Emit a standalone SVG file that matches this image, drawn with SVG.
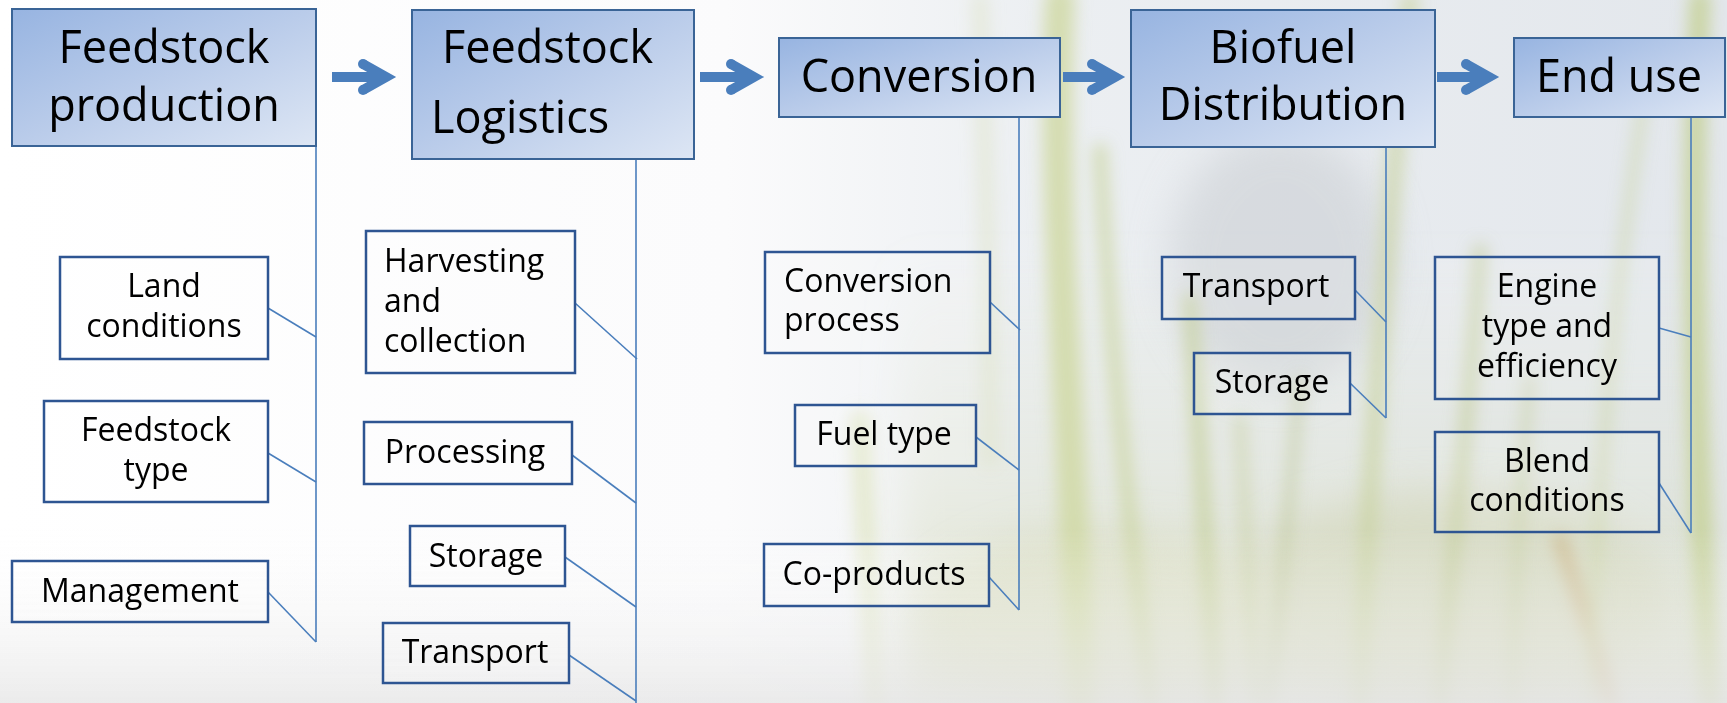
<svg xmlns="http://www.w3.org/2000/svg" width="1727" height="703" viewBox="0 0 1727 703">
<defs>
<linearGradient id="hdr" x1="0" y1="0" x2="1" y2="1">
<stop offset="0" stop-color="#97B4E1"/>
<stop offset="0.5" stop-color="#BACCEA"/>
<stop offset="1" stop-color="#DDE6F4"/>
</linearGradient>
<linearGradient id="bgH" x1="0" y1="0" x2="1" y2="0">
<stop offset="0" stop-color="#FFFFFF"/>
<stop offset="0.42" stop-color="#FBFBFC"/>
<stop offset="0.6" stop-color="#ECEFF2"/>
<stop offset="1" stop-color="#E3E7EC"/>
</linearGradient>
<linearGradient id="bgV" x1="0" y1="0" x2="0" y2="1">
<stop offset="0" stop-color="#FFFFFF" stop-opacity="0"/>
<stop offset="0.75" stop-color="#FFFFFF" stop-opacity="0"/>
<stop offset="1" stop-color="#E6E6E6" stop-opacity="0.8"/>
</linearGradient>
<linearGradient id="greenV" x1="0" y1="0" x2="0" y2="1">
<stop offset="0" stop-color="#D9DEC0" stop-opacity="0"/>
<stop offset="0.45" stop-color="#D9DEC0" stop-opacity="0.25"/>
<stop offset="1" stop-color="#CDD3A6" stop-opacity="0.55"/>
</linearGradient>
<filter id="blur" x="-50%" y="-10%" width="200%" height="120%">
<feGaussianBlur stdDeviation="8"/>
</filter>
<filter id="blur2" x="-50%" y="-20%" width="200%" height="140%">
<feGaussianBlur stdDeviation="20"/>
</filter>
</defs>
<style>
.hbox{fill:url(#hdr);stroke:#3A6496;stroke-width:2}
.sbox{fill:#FFFFFF;fill-opacity:0.12;stroke:#2E5592;stroke-width:2.5}
.ht{font-family:"Open Sans","Liberation Sans",sans-serif;font-size:45px;fill:#000}
.st{font-family:"Open Sans","Liberation Sans",sans-serif;font-size:32px;fill:#000}
.c{text-anchor:middle}
.ln{stroke:#4A7EBC;stroke-width:1.6;fill:none}
.ar{stroke:#4A7EBC;fill:none;stroke-width:10}
</style>
<g id="background">
<rect x="0" y="0" width="1727" height="703" fill="url(#bgH)"/>
<rect x="900" y="250" width="827" height="453" fill="url(#greenV)" filter="url(#blur2)"/>
<g filter="url(#blur2)" opacity="0.55">
<ellipse cx="1280" cy="260" rx="110" ry="130" fill="#C9CDD2"/>
<ellipse cx="1450" cy="600" rx="220" ry="110" fill="#D3D6B8"/>
<ellipse cx="1100" cy="620" rx="180" ry="90" fill="#DADDBF"/>
</g>
<g filter="url(#blur)" fill="none" stroke-linecap="round">
<path d="M1060 0 C1050 200 1075 450 1080 703" stroke="#D0D9A6" stroke-width="30" opacity="0.85"/>
<path d="M1100 150 C1110 350 1130 520 1150 703" stroke="#C6D195" stroke-width="14" opacity="0.65"/>
<path d="M1190 300 C1200 450 1210 600 1215 703" stroke="#BFCB8E" stroke-width="16" opacity="0.6"/>
<path d="M1240 420 C1245 520 1250 620 1255 703" stroke="#C4CE98" stroke-width="12" opacity="0.5"/>
<path d="M1410 0 C1390 200 1370 450 1360 703" stroke="#C8D39E" stroke-width="18" opacity="0.65"/>
<path d="M1480 250 C1470 420 1450 560 1440 703" stroke="#BEC98D" stroke-width="14" opacity="0.55"/>
<path d="M1560 540 C1580 600 1600 660 1610 703" stroke="#CDB98C" stroke-width="14" opacity="0.85"/>
<path d="M1700 0 C1690 200 1695 450 1710 703" stroke="#C2CF8E" stroke-width="22" opacity="0.75"/>
<path d="M1650 60 C1620 250 1600 420 1590 703" stroke="#C7D29C" stroke-width="10" opacity="0.55"/>
<path d="M860 420 C865 520 870 620 875 703" stroke="#DDE3BC" stroke-width="20" opacity="0.65"/>
<path d="M1300 380 C1290 500 1280 600 1270 703" stroke="#B6C287" stroke-width="10" opacity="0.5"/>
<path d="M980 0 C985 150 990 300 990 460" stroke="#E0E5CC" stroke-width="16" opacity="0.6"/>
<path d="M1530 380 C1520 480 1515 600 1512 703" stroke="#C2CC93" stroke-width="10" opacity="0.5"/>
</g>
<rect x="0" y="0" width="1727" height="703" fill="url(#bgV)"/>
</g>
<g id="connectors">
<line class="ln" x1="316" y1="146" x2="316" y2="642"/>
<line class="ln" x1="268" y1="308" x2="316" y2="337"/>
<line class="ln" x1="268" y1="453" x2="316" y2="482"/>
<line class="ln" x1="268" y1="592" x2="316" y2="642"/>
<line class="ln" x1="636" y1="159" x2="636" y2="703"/>
<line class="ln" x1="575" y1="303" x2="637" y2="359"/>
<line class="ln" x1="572" y1="455" x2="636" y2="503"/>
<line class="ln" x1="565" y1="557" x2="636" y2="607"/>
<line class="ln" x1="569" y1="655" x2="636" y2="701"/>
<line class="ln" x1="1019" y1="117" x2="1019" y2="610"/>
<line class="ln" x1="990" y1="302" x2="1020" y2="330"/>
<line class="ln" x1="976" y1="437" x2="1019" y2="470"/>
<line class="ln" x1="989" y1="577" x2="1019" y2="610"/>
<line class="ln" x1="1386" y1="147" x2="1386" y2="418"/>
<line class="ln" x1="1355" y1="290" x2="1386" y2="322"/>
<line class="ln" x1="1350" y1="383" x2="1386" y2="418"/>
<line class="ln" x1="1691" y1="117" x2="1691" y2="533"/>
<line class="ln" x1="1659" y1="328" x2="1691" y2="337"/>
<line class="ln" x1="1659" y1="483" x2="1691" y2="533"/>
<g id="arrows">
<path class="ar" d="M332 77 H386 M363 64 L386 77 L363 90" stroke-linejoin="miter"/>
<path class="ar" d="M700 77 H754 M731 64 L754 77 L731 90" stroke-linejoin="miter"/>
<path class="ar" d="M1063 77 H1115 M1092 64 L1115 77 L1092 90" stroke-linejoin="miter"/>
<path class="ar" d="M1437 77 H1489 M1466 64 L1489 77 L1466 90" stroke-linejoin="miter"/>
<g fill="#4A7EBC">
<circle cx="363" cy="64" r="5"/><circle cx="363" cy="90" r="5"/>
<circle cx="731" cy="64" r="5"/><circle cx="731" cy="90" r="5"/>
<circle cx="1092" cy="64" r="5"/><circle cx="1092" cy="90" r="5"/>
<circle cx="1466" cy="64" r="5"/><circle cx="1466" cy="90" r="5"/>
</g>
</g>
</g>
<g id="feedstock-production">
<rect class="hbox" x="12" y="9" width="304" height="137"/>
<text class="ht c" x="164" y="63">Feedstock</text>
<text class="ht c" x="164" y="121">production</text>
</g>
<g id="feedstock-logistics">
<rect class="hbox" x="412" y="10" width="282" height="149"/>
<text class="ht" x="442" y="63">Feedstock</text>
<text class="ht" x="431" y="133">Logistics</text>
</g>
<g id="conversion">
<rect class="hbox" x="779" y="38" width="281" height="79"/>
<text class="ht c" x="919" y="92">Conversion</text>
</g>
<g id="biofuel-distribution">
<rect class="hbox" x="1131" y="10" width="304" height="137"/>
<text class="ht c" x="1283" y="63">Biofuel</text>
<text class="ht c" x="1283" y="120">Distribution</text>
</g>
<g id="end-use">
<rect class="hbox" x="1514" y="38" width="211" height="79"/>
<text class="ht c" x="1619" y="92">End use</text>
</g>
<g id="land-conditions">
<rect class="sbox" x="60" y="257" width="208" height="102"/>
<text class="st c" x="164" y="297">Land</text>
<text class="st c" x="164" y="337">conditions</text>
</g>
<g id="feedstock-type">
<rect class="sbox" x="44" y="401" width="224" height="101"/>
<text class="st c" x="156" y="441">Feedstock</text>
<text class="st c" x="156" y="481">type</text>
</g>
<g id="management">
<rect class="sbox" x="12" y="561" width="256" height="61"/>
<text class="st c" x="140" y="602">Management</text>
</g>
<g id="harvesting">
<rect class="sbox" x="366" y="231" width="209" height="142"/>
<text class="st" x="384" y="272">Harvesting</text>
<text class="st" x="384" y="312">and</text>
<text class="st" x="384" y="352">collection</text>
</g>
<g id="processing">
<rect class="sbox" x="364" y="422" width="208" height="62"/>
<text class="st c" x="465" y="463">Processing</text>
</g>
<g id="storage-1">
<rect class="sbox" x="410" y="526" width="155" height="60"/>
<text class="st c" x="486" y="567">Storage</text>
</g>
<g id="transport-1">
<rect class="sbox" x="383" y="623" width="186" height="60"/>
<text class="st c" x="475" y="663">Transport</text>
</g>
<g id="conversion-process">
<rect class="sbox" x="765" y="252" width="225" height="101"/>
<text class="st" x="784" y="292">Conversion</text>
<text class="st" x="784" y="331">process</text>
</g>
<g id="fuel-type">
<rect class="sbox" x="795" y="405" width="181" height="61"/>
<text class="st c" x="884" y="445">Fuel type</text>
</g>
<g id="co-products">
<rect class="sbox" x="764" y="544" width="225" height="62"/>
<text class="st c" x="874" y="585">Co-products</text>
</g>
<g id="transport-2">
<rect class="sbox" x="1162" y="257" width="193" height="62"/>
<text class="st c" x="1256" y="297">Transport</text>
</g>
<g id="storage-2">
<rect class="sbox" x="1194" y="353" width="156" height="61"/>
<text class="st c" x="1272" y="393">Storage</text>
</g>
<g id="engine-type">
<rect class="sbox" x="1435" y="257" width="224" height="142"/>
<text class="st c" x="1547" y="297">Engine</text>
<text class="st c" x="1547" y="337">type and</text>
<text class="st c" x="1547" y="377">efficiency</text>
</g>
<g id="blend-conditions">
<rect class="sbox" x="1435" y="432" width="224" height="100"/>
<text class="st c" x="1547" y="472">Blend</text>
<text class="st c" x="1547" y="511">conditions</text>
</g>
</svg>
